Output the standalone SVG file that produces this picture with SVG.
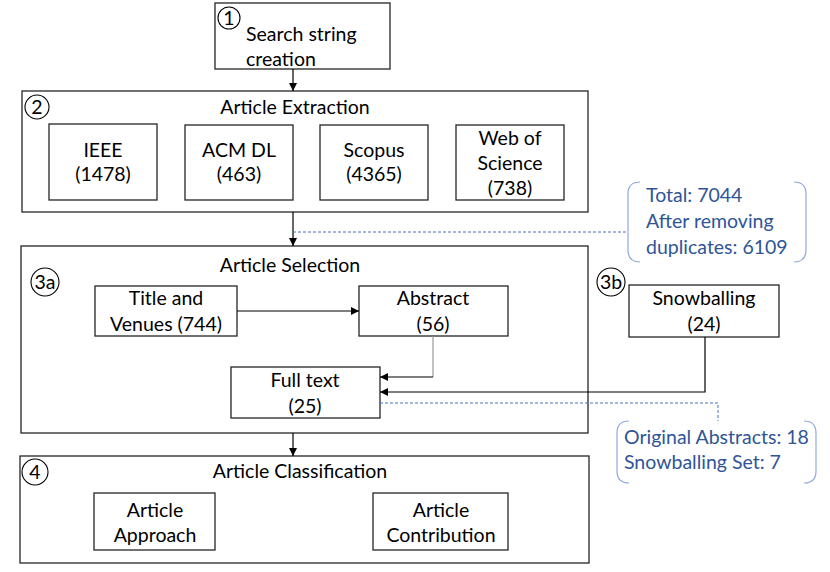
<svg xmlns="http://www.w3.org/2000/svg" width="830" height="572" viewBox="0 0 830 572">
<defs>
<marker id="ah" viewBox="0 0 8 8" refX="8" refY="4" markerWidth="8" markerHeight="8" markerUnits="userSpaceOnUse" orient="auto">
<path d="M0,0 L8,4 L0,8 z" fill="#000"/>
</marker>
<style>
.box{fill:#fff;stroke:#262626;stroke-width:1.3}
.num{fill:none;stroke:#000;stroke-width:1.1}
text{font-family:Lato,"Liberation Sans",sans-serif;font-size:19.5px;fill:#000}
.c{text-anchor:middle}
.blue{fill:#2F5597}
.br{fill:none;stroke:#8FAADC;stroke-width:1.2}
.dash{fill:none;stroke:#4472C4;stroke-width:1;stroke-dasharray:3,2}
.ln{fill:none;stroke:#000;stroke-width:1.2}
</style>
</defs>
<rect width="830" height="572" fill="#fff"/>

<g id="step1">
<rect class="box" x="215" y="3" width="175" height="66"/>
<circle class="num" cx="229" cy="18" r="11"/>
<text x="229" y="25" class="c">1</text>
<text x="246" y="41">Search string</text>
<text x="246" y="66">creation</text>
</g>

<g id="step2">
<rect class="box" x="22" y="91" width="566" height="121"/>
<circle class="num" cx="37" cy="107" r="12"/>
<text x="37" y="114" class="c">2</text>
<text x="295" y="114" class="c">Article Extraction</text>
</g>
<g id="ieee"><rect class="box" x="49" y="124" width="108" height="76"/><text x="103" y="157" class="c">IEEE</text><text x="103" y="181" class="c">(1478)</text></g>
<g id="acm"><rect class="box" x="185" y="125" width="108" height="75"/><text x="239" y="157" class="c">ACM DL</text><text x="239" y="181" class="c">(463)</text></g>
<g id="scopus"><rect class="box" x="320" y="125" width="108" height="75"/><text x="374" y="157" class="c">Scopus</text><text x="374" y="181" class="c">(4365)</text></g>
<g id="wos"><rect class="box" x="456" y="125" width="108" height="75"/><text x="510" y="145" class="c">Web of</text><text x="510" y="170" class="c">Science</text><text x="510" y="195" class="c">(738)</text></g>

<g id="note1">
<path class="br" d="M640,182 Q628,182 628,194 L628,250 Q628,262 640,262"/>
<path class="br" d="M794,182 Q806,182 806,194 L806,250 Q806,262 794,262"/>
<text x="646" y="202" class="blue">Total: 7044</text>
<text x="646" y="228" class="blue">After removing</text>
<text x="646" y="254" class="blue">duplicates: 6109</text>
</g>

<g id="step3a">
<rect class="box" x="21" y="246" width="567" height="187"/>
<circle class="num" cx="45" cy="282" r="14"/>
<text x="45" y="289" class="c">3a</text>
<text x="290" y="272" class="c">Article Selection</text>
</g>
<g id="title"><rect class="box" x="95" y="286" width="142" height="50"/><text x="166" y="305" class="c">Title and</text><text x="166" y="331" class="c">Venues (744)</text></g>
<g id="abstract"><rect class="box" x="359" y="286" width="149" height="50"/><text x="433" y="305" class="c">Abstract</text><text x="433" y="331" class="c">(56)</text></g>
<g id="fulltext"><rect class="box" x="231" y="367" width="149" height="51"/><text x="305" y="387" class="c">Full text</text><text x="305" y="413" class="c">(25)</text></g>

<g id="step3b">
<circle class="num" cx="611" cy="282" r="14"/>
<text x="611" y="289" class="c">3b</text>
</g>
<g id="snowballing"><rect class="box" x="629" y="285" width="150" height="52"/><text x="704" y="305" class="c">Snowballing</text><text x="704" y="331" class="c">(24)</text></g>

<g id="note2">
<path class="br" d="M629,421 Q617,421 617,433 L617,471 Q617,483 629,483"/>
<path class="br" d="M804,421 Q816,421 816,433 L816,471 Q816,483 804,483"/>
<text x="624" y="444" class="blue">Original Abstracts: 18</text>
<text x="624" y="469" class="blue">Snowballing Set: 7</text>
</g>

<g id="step4">
<rect class="box" x="20" y="456" width="569" height="107"/>
<circle class="num" cx="35" cy="472" r="13"/>
<text x="35" y="479" class="c">4</text>
<text x="300" y="478" class="c">Article Classification</text>
</g>
<g id="approach"><rect class="box" x="94" y="493" width="121" height="57"/><text x="155" y="517" class="c">Article</text><text x="155" y="542" class="c">Approach</text></g>
<g id="contribution"><rect class="box" x="373" y="493" width="135" height="57"/><text x="441" y="517" class="c">Article</text><text x="441" y="542" class="c">Contribution</text></g>

<g id="connectors">
<line class="ln" x1="293" y1="69" x2="293" y2="91" marker-end="url(#ah)"/>
<line class="ln" x1="293" y1="212" x2="293" y2="246" marker-end="url(#ah)"/>
<path class="dash" d="M293,232 H628"/>
<line class="ln" x1="237" y1="311" x2="359" y2="311" marker-end="url(#ah)"/>
<path d="M433,336 V377" fill="none" stroke="#999" stroke-width="1.2"/>
<path class="ln" d="M433,377 H380" marker-end="url(#ah)"/>
<path class="ln" d="M705,337 V392 H380" marker-end="url(#ah)"/>
<path class="dash" d="M380,403 H718 V421"/>
<line class="ln" x1="293" y1="433" x2="293" y2="456" marker-end="url(#ah)"/>
</g>
</svg>
